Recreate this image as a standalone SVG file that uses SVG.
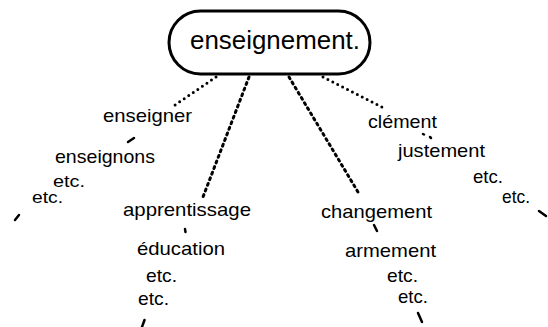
<svg xmlns="http://www.w3.org/2000/svg" width="548" height="327" viewBox="0 0 548 327">
<style>
text{font-family:"Liberation Sans",Arial,sans-serif;font-size:19px;fill:#000}
text.s{font-size:17px}
.dot{stroke:#000;stroke-width:3;stroke-linecap:round;stroke-dasharray:0 5.5;fill:none}
.dash{stroke:#000;stroke-width:3;stroke-linecap:round;stroke-dasharray:2 4;fill:none}
.tick{stroke:#000;stroke-width:2.5;stroke-linecap:round;fill:none}
</style>
<rect width="548" height="327" fill="#fff"/>
<g id="root">
<rect x="169" y="11" width="201" height="63" rx="31.5" fill="#fff" stroke="#000" stroke-width="3"/>
<text x="190" y="49" textLength="170" lengthAdjust="spacingAndGlyphs" style="font-size:25px">enseignement.</text>
</g>
<g id="connectors">
<line class="dot" x1="216" y1="77" x2="172" y2="107"/>
<line class="dash" x1="249" y1="77" x2="203" y2="197"/>
<line class="dash" x1="289" y1="77" x2="358" y2="192"/>
<line class="dot" x1="323" y1="77" x2="382" y2="107"/>
<line class="tick" x1="128" y1="142" x2="134" y2="138"/>
<line class="tick" x1="15" y1="220" x2="19" y2="215"/>
<line class="tick" x1="185" y1="229" x2="185.5" y2="232"/>
<line class="tick" x1="142" y1="327" x2="144.5" y2="320"/>
<line class="tick" x1="423" y1="134" x2="424" y2="134.5"/>
<line class="tick" x1="430" y1="137" x2="431" y2="138"/>
<line class="tick" x1="539" y1="211" x2="546" y2="216"/>
<line class="tick" x1="374" y1="225" x2="377" y2="231"/>
<line class="tick" x1="418" y1="313" x2="422" y2="322"/>
</g>
<g id="enseigner"><text x="103" y="122" textLength="89" lengthAdjust="spacingAndGlyphs">enseigner</text></g>
<g id="enseignons"><text x="55" y="163" textLength="100" lengthAdjust="spacingAndGlyphs">enseignons</text></g>
<g id="etc1"><text class="s" x="53" y="187" textLength="32" lengthAdjust="spacingAndGlyphs">etc.</text></g>
<g id="etc2"><text class="s" x="32" y="203" textLength="31" lengthAdjust="spacingAndGlyphs">etc.</text></g>
<g id="apprentissage"><text x="123" y="216" textLength="128" lengthAdjust="spacingAndGlyphs">apprentissage</text></g>
<g id="education"><text x="137" y="255" textLength="88" lengthAdjust="spacingAndGlyphs">éducation</text></g>
<g id="etc3"><text x="146" y="282" textLength="31" lengthAdjust="spacingAndGlyphs">etc.</text></g>
<g id="etc4"><text x="138" y="305" textLength="31" lengthAdjust="spacingAndGlyphs">etc.</text></g>
<g id="clement"><text x="368" y="128" textLength="69" lengthAdjust="spacingAndGlyphs">clément</text></g>
<g id="justement"><text x="398" y="157" textLength="87" lengthAdjust="spacingAndGlyphs">justement</text></g>
<g id="etc5"><text x="473" y="183" textLength="30" lengthAdjust="spacingAndGlyphs">etc.</text></g>
<g id="etc6"><text x="502" y="203" textLength="28" lengthAdjust="spacingAndGlyphs">etc.</text></g>
<g id="changement"><text x="321" y="218" textLength="111" lengthAdjust="spacingAndGlyphs">changement</text></g>
<g id="armement"><text x="345" y="257" textLength="91" lengthAdjust="spacingAndGlyphs">armement</text></g>
<g id="etc7"><text x="387" y="282" textLength="31" lengthAdjust="spacingAndGlyphs">etc.</text></g>
<g id="etc8"><text x="398" y="303" textLength="30" lengthAdjust="spacingAndGlyphs">etc.</text></g>
</svg>
